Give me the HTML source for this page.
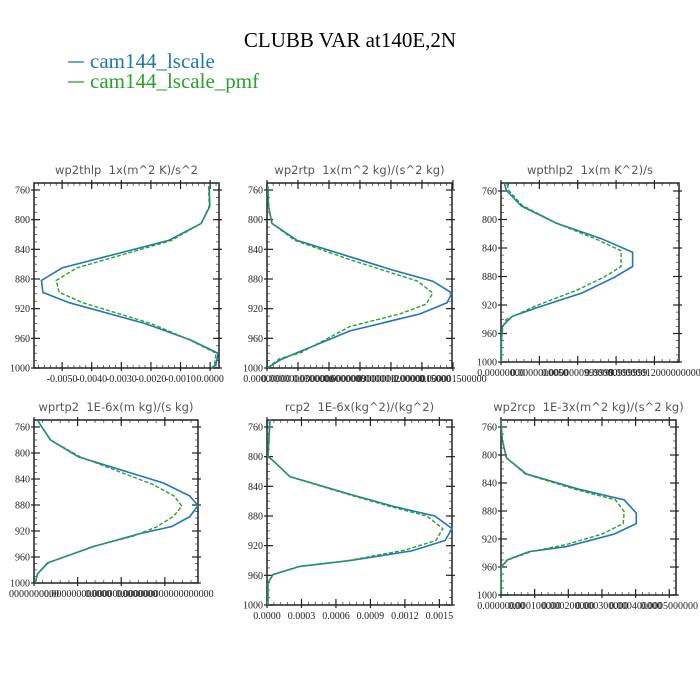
<!DOCTYPE html>
<html><head><meta charset="utf-8"><style>
html,body{margin:0;padding:0;background:#fff;}
svg{display:block;}
.pt{font-family:"DejaVu Sans",sans-serif;font-size:11.5px;fill:#555;white-space:pre;}
.tk{font-family:"Liberation Serif",serif;font-size:10px;fill:#222;}
</style></head><body>
<svg id="fig" width="700" height="700" xmlns="http://www.w3.org/2000/svg">
<rect width="700" height="700" fill="#fff"/>
<text x="350" y="47" text-anchor="middle" font-family="Liberation Serif,serif" font-size="21" fill="#000">CLUBB VAR at140E,2N</text>
<g>
<line x1="68" x2="84" y1="62" y2="62" stroke="#1f77b4" stroke-width="1.3"/>
<text x="90" y="68" font-family="Liberation Serif,serif" font-size="21" fill="#1f77b4">cam144_lscale</text>
<line x1="68" x2="84" y1="82" y2="82" stroke="#2ca02c" stroke-width="1.3"/>
<text x="90" y="88" font-family="Liberation Serif,serif" font-size="21" fill="#2ca02c">cam144_lscale_pmf</text>
</g>
</svg>
<script>
// pressure levels (hPa) and values per panel
const p1B=[755,782,805,828,865,882,898,912,940,962,980,995,1000];
const v1B=[-0.00003,-0.00001,-0.0003,-0.0014,-0.0050,-0.0057,-0.00565,-0.00476,-0.0022,-0.00068,0.00027,0.0002,0.00007];
const p1G=[755,782,805,828,865,882,898,912,940,962,980,995,1000];
const v1G=[-0.00005,-0.00003,-0.0003,-0.0013,-0.0045,-0.0052,-0.0051,-0.0043,-0.0020,-0.0007,0.0002,0.00015,0.00005];
const p2B=[755,782,805,828,850,868,883,899,912,927,950,979,988,996,1000];
const v2B=[0.03,0.05,0.16,0.97,2.68,4.06,5.35,5.97,5.81,4.94,2.68,1.0,0.48,0.16,0.03];
const p2G=[755,782,805,828,854,883,899,914,927,944,980,987,1000];
const v2G=[0.03,0.04,0.16,0.9,2.68,4.87,5.35,5.13,4.29,2.68,1.06,0.42,0.0];
const p3B=[750,759,781,805,827,846,866,881,903,924,936,950,972,1000];
const v3B=[0.09,0.14,0.53,1.44,2.62,3.43,3.43,2.96,2.12,0.92,0.29,0.03,0.01,0.01];
const p3G=[750,759,780,805,828,844,866,881,898,921,940,950,972,1000];
const v3G=[0.16,0.2,0.55,1.44,2.5,3.13,3.13,2.68,2.03,0.92,0.14,0.05,0.01,0.01];
const p4B=[750,757,780,806,846,866,881,898,913,924,944,969,986,1000];
const v4B=[0.09,0.15,0.38,1.02,2.96,3.57,3.76,3.57,3.16,2.43,1.36,0.31,0.08,0.03];
const p4G=[750,757,780,806,848,866,882,898,914,928,944,969,986,1000];
const v4G=[0.09,0.15,0.38,1.06,2.71,3.21,3.39,3.19,2.8,2.27,1.34,0.33,0.08,0.03];
const p5B=[750,800,804,827,851,867,880,897,913,927,940,948,959,970,1000];
const v5B=[0.26,0.09,0.43,2.0,7.28,11.0,14.6,16.1,15.5,12.6,7.28,2.86,0.52,0.09,0.09];
const p5G=[750,800,804,827,851,867,880,897,913,926,940,948,959,970,1000];
const v5G=[0.2,0.09,0.43,2.0,7.1,10.7,13.9,15.3,14.7,12.0,7.1,2.8,0.5,0.09,0.05];
const p6B=[750,779,804,827,849,864,883,898,913,931,938,950,960,999];
const v6B=[0.0,0.04,0.16,0.75,2.32,3.66,4.02,4.02,3.36,1.93,0.84,0.18,0.01,0.01];
const p6G=[750,779,804,827,849,864,881,898,913,928,938,950,960,999];
const v6G=[0.0,0.04,0.16,0.72,2.2,3.4,3.66,3.63,3.0,1.93,0.9,0.2,0.01,0.01];
const yTicks=[760,800,840,880,920,960,1000];
const x1Ticks=[-0.005,-0.004,-0.003,-0.002,-0.001,0];
const x1Labels=["-0.0050","-0.0040","-0.0030","-0.0020","-0.0010","0.0000"];
const x2Ticks=[0,1,2,3,4,5,6];
const x2Labels=["0.00000000","0.0000000300000","0.0000006000000","0.0000009000000","0.000001200000","0.0000015000","0.000001500000"];
const x3Ticks=[0,1,2,3,4];
const x3Labels=["0.00000000","0.0000000050","0.0000000999999","0.00000999999","0.00000012000000000"];
const x4Ticks=[0,1,2,3];
const x4Labels=["0000000000","0.000000000000","0.0000000000000","0.000000000000000000"];
const x5Ticks=[0,3,6,9,12,15];
const x5Labels=["0.0000","0.0003","0.0006","0.0009","0.0012","0.0015"];
const x6Ticks=[0,1,2,3,4,5];
const x6Labels=["0.00000000","0.000100000","0.000200000","0.000300000","0.000400000","0.0005000000"];

const NS="http://www.w3.org/2000/svg";
const svg=document.getElementById('fig');
function mk(t,a,parent){const e=document.createElementNS(NS,t);for(const k in a)e.setAttribute(k,a[k]);(parent||svg).appendChild(e);return e;}

function panel(cfg){
  const g=mk('g',{});
  
  
  const {x0,x1,yTop,y760,y1000,xmin,xmax}=cfg;
  const sy=(y1000-y760)/240;
  const Y=p=>y760+(p-760)*sy;
  const X=v=>x0+(v-xmin)/(xmax-xmin)*(x1-x0);
  const t=mk('text',{x:(x0+x1)/2,y:yTop-9,'text-anchor':'middle',class:'pt'},g);
  t.textContent=cfg.title;
  
  
  for(let p=760;p<=1000;p+=10){const y=Y(p);
    mk('line',{x1:x0,x2:x0+3,y1:y,y2:y,stroke:'#333','stroke-width':0.7},g);
    mk('line',{x1:x1,x2:x1-3,y1:y,y2:y,stroke:'#333','stroke-width':0.7},g);}
  yTicks.forEach(p=>{const y=Y(p);
    mk('line',{x1:x0-3,x2:x0+6,y1:y,y2:y,stroke:'#222','stroke-width':1.2},g);
    mk('line',{x1:x1+3,x2:x1-6,y1:y,y2:y,stroke:'#222','stroke-width':1.2},g);
    const l=mk('text',{x:x0-4,y:y+3.5,'text-anchor':'end',class:'tk'},g);l.textContent=p;
    
    });
  const step=(cfg.ticks[1]-cfg.ticks[0])/5;
  for(let v=cfg.ticks[0]-5*step;v<=xmax+1e-12;v+=step){if(v<xmin-1e-12)continue;const x=X(v);
    mk('line',{x1:x,x2:x,y1:y1000,y2:y1000-3,stroke:'#333','stroke-width':0.7},g);
    mk('line',{x1:x,x2:x,y1:yTop,y2:yTop+3,stroke:'#333','stroke-width':0.7},g);}
  cfg.ticks.forEach((v,i)=>{const x=X(v);
    mk('line',{x1:x,x2:x,y1:y1000+3,y2:y1000-6,stroke:'#222','stroke-width':1.2},g);
    mk('line',{x1:x,x2:x,y1:yTop-3,y2:yTop+6,stroke:'#222','stroke-width':1.2},g);
    const l=mk('text',{x:x,y:y1000+14,'text-anchor':'middle',class:'tk'},g);l.textContent=cfg.labels[i];
    
    });
  const fr=mk('rect',{x:x0,y:yTop,width:x1-x0,height:y1000-yTop,fill:'none',stroke:'#222','stroke-width':1.5},g);
  
  
  const line=(ps,vs,col,dash,nm)=>{const d=ps.map((p,i)=>(i?'L':'M')+X(vs[i]).toFixed(1)+','+Y(p).toFixed(1)).join('');
    const e=mk('path',{d:d,fill:'none',stroke:col,'stroke-width':dash?1.4:1.6,'stroke-dasharray':dash?'4,2':'none'},g);
    
    };
  line(cfg.pB,cfg.vB,'#1f77b4',false,'series-lscale');
  line(cfg.pG,cfg.vG,'#2ca02c',true,'series-lscale-pmf');
}
panel({name:'panel-wp2thlp',title:'wp2thlp  1x(m^2 K)/s^2',x0:34,x1:219,yTop:183,y760:190,y1000:368,xmin:-0.00595,xmax:0.0003,ticks:x1Ticks,labels:x1Labels,pB:p1B,vB:v1B,pG:p1G,vG:v1G});
panel({name:'panel-wp2rtp',title:'wp2rtp  1x(m^2 kg)/(s^2 kg)',x0:267,x1:452,yTop:183,y760:190,y1000:368,xmin:0,xmax:5.97,ticks:x2Ticks,labels:x2Labels,pB:p2B,vB:v2B,pG:p2G,vG:v2G});
panel({name:'panel-wpthlp2',title:'wpthlp2  1x(m K^2)/s',x0:501,x1:679,yTop:183,y760:191,y1000:362,xmin:0,xmax:4.64,ticks:x3Ticks,labels:x3Labels,pB:p3B,vB:v3B,pG:p3G,vG:v3G});
panel({name:'panel-wprtp2',title:'wprtp2  1E-6x(m kg)/(s kg)',x0:34,x1:198,yTop:420,y760:427,y1000:583,xmin:0,xmax:3.76,ticks:x4Ticks,labels:x4Labels,pB:p4B,vB:v4B,pG:p4G,vG:v4G});
panel({name:'panel-rcp2',title:'rcp2  1E-6x(kg^2)/(kg^2)',x0:267,x1:452,yTop:420,y760:427,y1000:605,xmin:0,xmax:16.1,ticks:x5Ticks,labels:x5Labels,pB:p5B,vB:v5B,pG:p5G,vG:v5G});
panel({name:'panel-wp2rcp',title:'wp2rcp  1E-3x(m^2 kg)/(s^2 kg)',x0:501,x1:676,yTop:420,y760:427,y1000:595,xmin:0,xmax:5.2,ticks:x6Ticks,labels:x6Labels,pB:p6B,vB:v6B,pG:p6G,vG:v6G});
</script>
</body></html>
